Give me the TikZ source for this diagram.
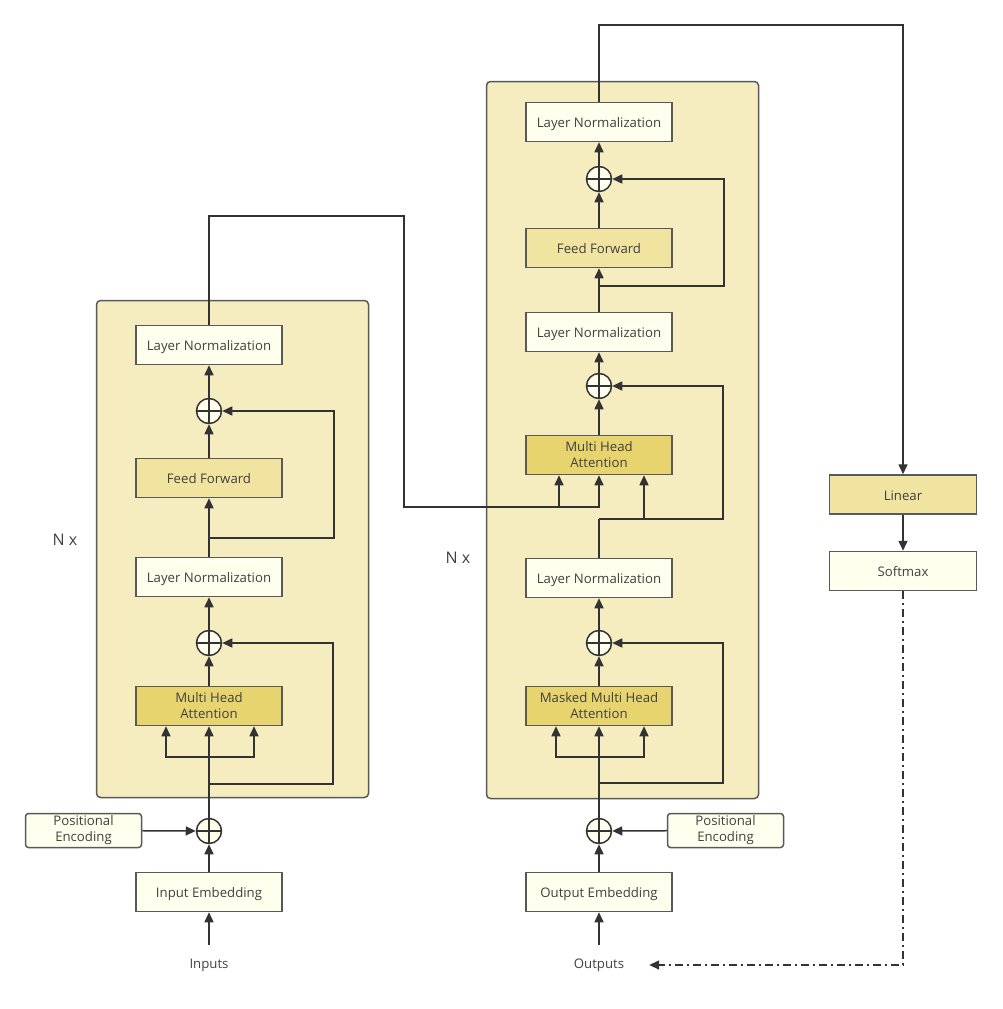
\documentclass[tikz,border=0pt]{standalone}
\usepackage{fontspec}
\setmainfont{Open Sans}
\usepackage{xcolor}
\usepackage{tikz}
\usetikzlibrary{arrows.meta}

\definecolor{edge}{HTML}{595959}
\definecolor{wire}{HTML}{333333}
\definecolor{txt}{HTML}{404040}
\definecolor{stackfill}{HTML}{F5ECC0}
\definecolor{normfill}{HTML}{FFFFEE}
\definecolor{fffill}{HTML}{F1E3A0}
\definecolor{attfill}{HTML}{E8D46E}

\begin{document}
\begin{tikzpicture}[x=1pt,y=-1pt,>={Triangle[length=10pt,width=9pt]},line width=1.5pt,color=wire,font=\fontsize{13.2}{16}\selectfont]

                \tikzset{box/.style={draw=edge, minimum width=146pt, minimum height=39pt, text=txt, align=center, inner sep=0pt},
                         norm/.style={box, fill=normfill, text height=14pt, text depth=3pt},
                         ffn/.style={box, fill=fffill, text height=14pt, text depth=3pt},
                         attn/.style={box, fill=attfill},
                         posenc/.style={draw=edge, fill=normfill, rounded corners=3pt, minimum width=116pt, minimum height=34pt, text=txt, align=center, inner sep=0pt, font=\fontsize{13.2}{16}\selectfont},
                         addop/.style={circle, draw=wire, fill=normfill, minimum size=25pt, inner sep=0pt,
                                       path picture={\draw[wire] (path picture bounding box.north) -- (path picture bounding box.south)
                                                                 (path picture bounding box.west) -- (path picture bounding box.east);}},
                         stackbg/.style={draw=edge, fill=stackfill, rounded corners=4pt, inner sep=0pt},
                         lbl/.style={text=txt}}

                \useasboundingbox (0,0) rectangle (1002,1009);

                \node[stackbg, minimum width=272pt, minimum height=497pt] (enc) at (232.5,549) {};
                \node[stackbg, minimum width=272pt, minimum height=717pt] (dec) at (622.5,440) {};

                \node[lbl, font=\fontsize{16}{19}\selectfont] (nenc) at (65,540) {N x};
                \node[lbl, font=\fontsize{16}{19}\selectfont] (ndec) at (458,558) {N x};

                \node[lbl] (inputs) at (209,965) {Inputs};
                \node[norm] (eemb) at (209,892) {Input Embedding};
                \node[addop] (eadd0) at (209,831) {};
                \node[posenc] (epos) at (83.5,830.5) {Positional\\Encoding};
                \node[attn] (eatt) at (209,706) {Multi Head\\Attention};
                \node[addop] (eadd1) at (209,643) {};
                \node[norm] (enorm1) at (209,577) {Layer Normalization};
                \node[ffn] (effn) at (209,478) {Feed Forward};
                \node[addop] (eadd2) at (209,411) {};
                \node[norm] (enorm2) at (209,345) {Layer Normalization};

                \node[lbl] (outputs) at (599,965) {Outputs};
                \node[norm] (demb) at (599,892) {Output Embedding};
                \node[addop] (dadd0) at (599,831) {};
                \node[posenc] (dpos) at (725.5,830.5) {Positional\\Encoding};
                \node[attn] (datt1) at (599,706) {Masked Multi Head\\Attention};
                \node[addop] (dadd1) at (599,643) {};
                \node[norm] (dnorm1) at (599,578) {Layer Normalization};
                \node[attn] (datt2) at (599,455) {Multi Head\\Attention};
                \node[addop] (dadd2) at (599,386) {};
                \node[norm] (dnorm2) at (599,332) {Layer Normalization};
                \node[ffn] (dffn) at (599,248) {Feed Forward};
                \node[addop] (dadd3) at (599,179) {};
                \node[norm] (dnorm3) at (599,122) {Layer Normalization};

                \node[ffn, minimum width=147pt] (linear) at (903,494.5) {Linear};
                \node[norm, minimum width=147pt] (softmax) at (903,571) {Softmax};

                \coordinate (eqkv) at (209,757);
                \coordinate (eres1) at (209,784);
                \coordinate (eres2) at (209,538);
                \coordinate (memtop) at (404,216);
                \coordinate (mem) at (404,507);
                \coordinate (memk) at (559,507);
                \coordinate (dqkv) at (599,757);
                \coordinate (dres1) at (599,783);
                \coordinate (dres2) at (599,519);
                \coordinate (dq) at (644,519);
                \coordinate (dres3) at (599,286);
                \coordinate (out) at (903,25);

                \draw[->] (inputs.north) ++(0,-10) -- (eemb);
                \draw[->] (eemb) -- (eadd0);
                \draw[->] (epos) -- (eadd0);
                \draw[->] (eadd0) -- (eatt);
                \draw[->] (eqkv) -| ([xshift=-43pt]eatt.south);
                \draw[->] (eqkv) -| ([xshift=45pt]eatt.south);
                \draw[->] (eres1) -- ++(124,0) |- (eadd1);
                \draw[->] (eatt) -- (eadd1);
                \draw[->] (eadd1) -- (enorm1);
                \draw[->] (enorm1) -- (effn);
                \draw[->] (eres2) -- ++(125,0) |- (eadd2);
                \draw[->] (effn) -- (eadd2);
                \draw[->] (eadd2) -- (enorm2);
                \draw[->] (enorm2.north) |- (memtop) -- (mem) -| (datt2.south);
                \draw[->] (memk) -- (memk |- datt2.south);

                \draw[->] (outputs.north) ++(0,-10) -- (demb);
                \draw[->] (demb) -- (dadd0);
                \draw[->] (dpos) -- (dadd0);
                \draw[->] (dadd0) -- (datt1);
                \draw[->] (dqkv) -| ([xshift=-43pt]datt1.south);
                \draw[->] (dqkv) -| ([xshift=45pt]datt1.south);
                \draw[->] (dres1) -- ++(124,0) |- (dadd1);
                \draw[->] (datt1) -- (dadd1);
                \draw[->] (dadd1) -- (dnorm1);
                \draw (dnorm1.north) -- (dres2);
                \draw[->] (dres2) -- ++(124,0) |- (dadd2);
                \draw[->] (dq) -- (dq |- datt2.south);
                \draw[->] (datt2) -- (dadd2);
                \draw[->] (dadd2) -- (dnorm2);
                \draw[->] (dnorm2) -- (dffn);
                \draw[->] (dres3) -- ++(125,0) |- (dadd3);
                \draw[->] (dffn) -- (dadd3);
                \draw[->] (dadd3) -- (dnorm3);
                \draw[->] (dnorm3.north) |- (out) -- (linear);
                \draw[->] (linear) -- (softmax);
                \draw[->, dash pattern=on 8pt off 4pt on 2pt off 4pt, shorten >=21pt] (softmax.south) |- (outputs.east);
            \end{tikzpicture}
\end{document}
